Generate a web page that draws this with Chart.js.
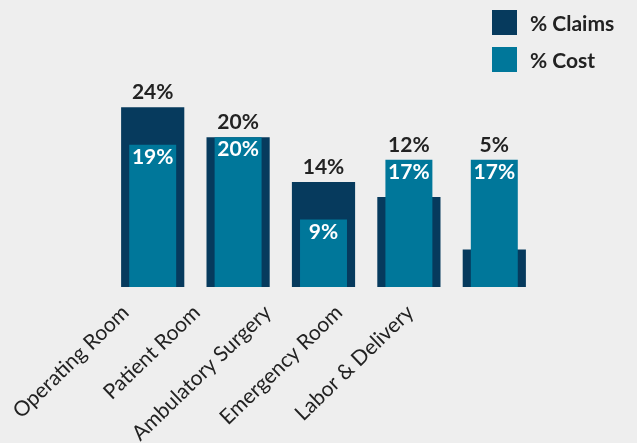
<!DOCTYPE html>
<html lang="en">
<head>
    <meta charset="UTF-8">
    <title>Claims vs Cost by Location</title>
    <script src="https://cdn.jsdelivr.net/npm/chart.js"></script>
    <style>
        html, body {
            margin: 0;
            padding: 0;
            background: #eeeeee;
            overflow: hidden;
        }
        #wrap {
            position: relative;
            width: 637px;
            height: 443px;
        }
        #legend {
            position: absolute;
            left: 492px;
            top: 10px;
            font-family: Lato, "Noto Sans", sans-serif;
            font-weight: bold;
            font-size: 21px;
            color: #222222;
        }
        .item {
            display: flex;
            align-items: center;
            height: 25px;
            margin-bottom: 12px;
        }
        .box {
            width: 25px;
            height: 25px;
            margin-right: 13px;
        }
    </style>
</head>
<body>
<div id="wrap">
    <canvas id="chart" width="637" height="443"></canvas>
    <div id="legend"></div>
</div>

<script>
    // data
    const locations = ['Operating Room', 'Patient Room', 'Ambulatory Surgery', 'Emergency Room', 'Labor & Delivery'];
    const claimsPct = [24, 20, 14, 12, 5];
    const costPct = [19, 20, 9, 17, 17];

    // the category labels sit on a tighter spacing than the bars
    const tickLabels = [...locations, ''];

    const claimsColor = '#063a5d';
    const costColor = '#00779a';

    // value labels: claims above the taller bar, cost inside teal bar
    const valueLabels = {
        id: 'valueLabels',
        afterDatasetsDraw(chart) {
            const ctx = chart.ctx;
            const claimsBars = chart.getDatasetMeta(0).data;
            const costBars = chart.getDatasetMeta(1).data;
            ctx.save();
            ctx.font = 'bold 21px Lato, "Noto Sans", sans-serif';
            ctx.textAlign = 'center';
            claimsBars.forEach((bar, i) => {
                const top = Math.min(bar.y, costBars[i].y);
                ctx.fillStyle = '#222222';
                ctx.textBaseline = 'bottom';
                ctx.fillText(claimsPct[i] + '%', bar.x, top - 4);
                ctx.fillStyle = '#ffffff';
                ctx.textBaseline = 'top';
                ctx.fillText(costPct[i] + '%', costBars[i].x, costBars[i].y + 2);
            });
            ctx.restore();
        }
    };

    const chart = new Chart(document.getElementById('chart'), {
        type: 'bar',
        data: {
            labels: locations,
            datasets: [
                {
                    label: '% Claims',
                    data: claimsPct,
                    backgroundColor: claimsColor,
                    grouped: false,
                    order: 2,
                    categoryPercentage: 1,
                    barPercentage: 0.74
                },
                {
                    label: '% Cost',
                    data: costPct,
                    backgroundColor: costColor,
                    grouped: false,
                    order: 1,
                    categoryPercentage: 1,
                    barPercentage: 0.55
                }
            ]
        },
        options: {
            responsive: false,
            animation: false,
            layout: {
                padding: { left: 110, right: 100, top: 66, bottom: 0 }
            },
            plugins: {
                legend: { display: false },
                tooltip: { enabled: false }
            },
            scales: {
                x: {
                    display: false
                },
                x2: {
                    type: 'category',
                    position: 'bottom',
                    labels: tickLabels,
                    offset: true,
                    grid: { display: false },
                    border: { display: false },
                    ticks: {
                        color: '#222222',
                        font: { family: 'Lato, "Noto Sans", sans-serif', size: 21 },
                        minRotation: 44,
                        maxRotation: 44,
                        labelOffset: -20,
                        padding: 5
                    },
                    afterFit(scale) {
                        scale.height = 156;
                    }
                },
                y: {
                    display: false,
                    min: 0,
                    max: 29.5
                }
            }
        },
        plugins: [valueLabels]
    });

    // html legend built from the datasets
    const legend = document.getElementById('legend');
    chart.data.datasets.forEach(ds => {
        const item = document.createElement('div');
        item.className = 'item';
        item.innerHTML = `<div class="box" style="background:${ds.backgroundColor}"></div><span>${ds.label}</span>`;
        legend.appendChild(item);
    });
</script>
</body>
</html>
